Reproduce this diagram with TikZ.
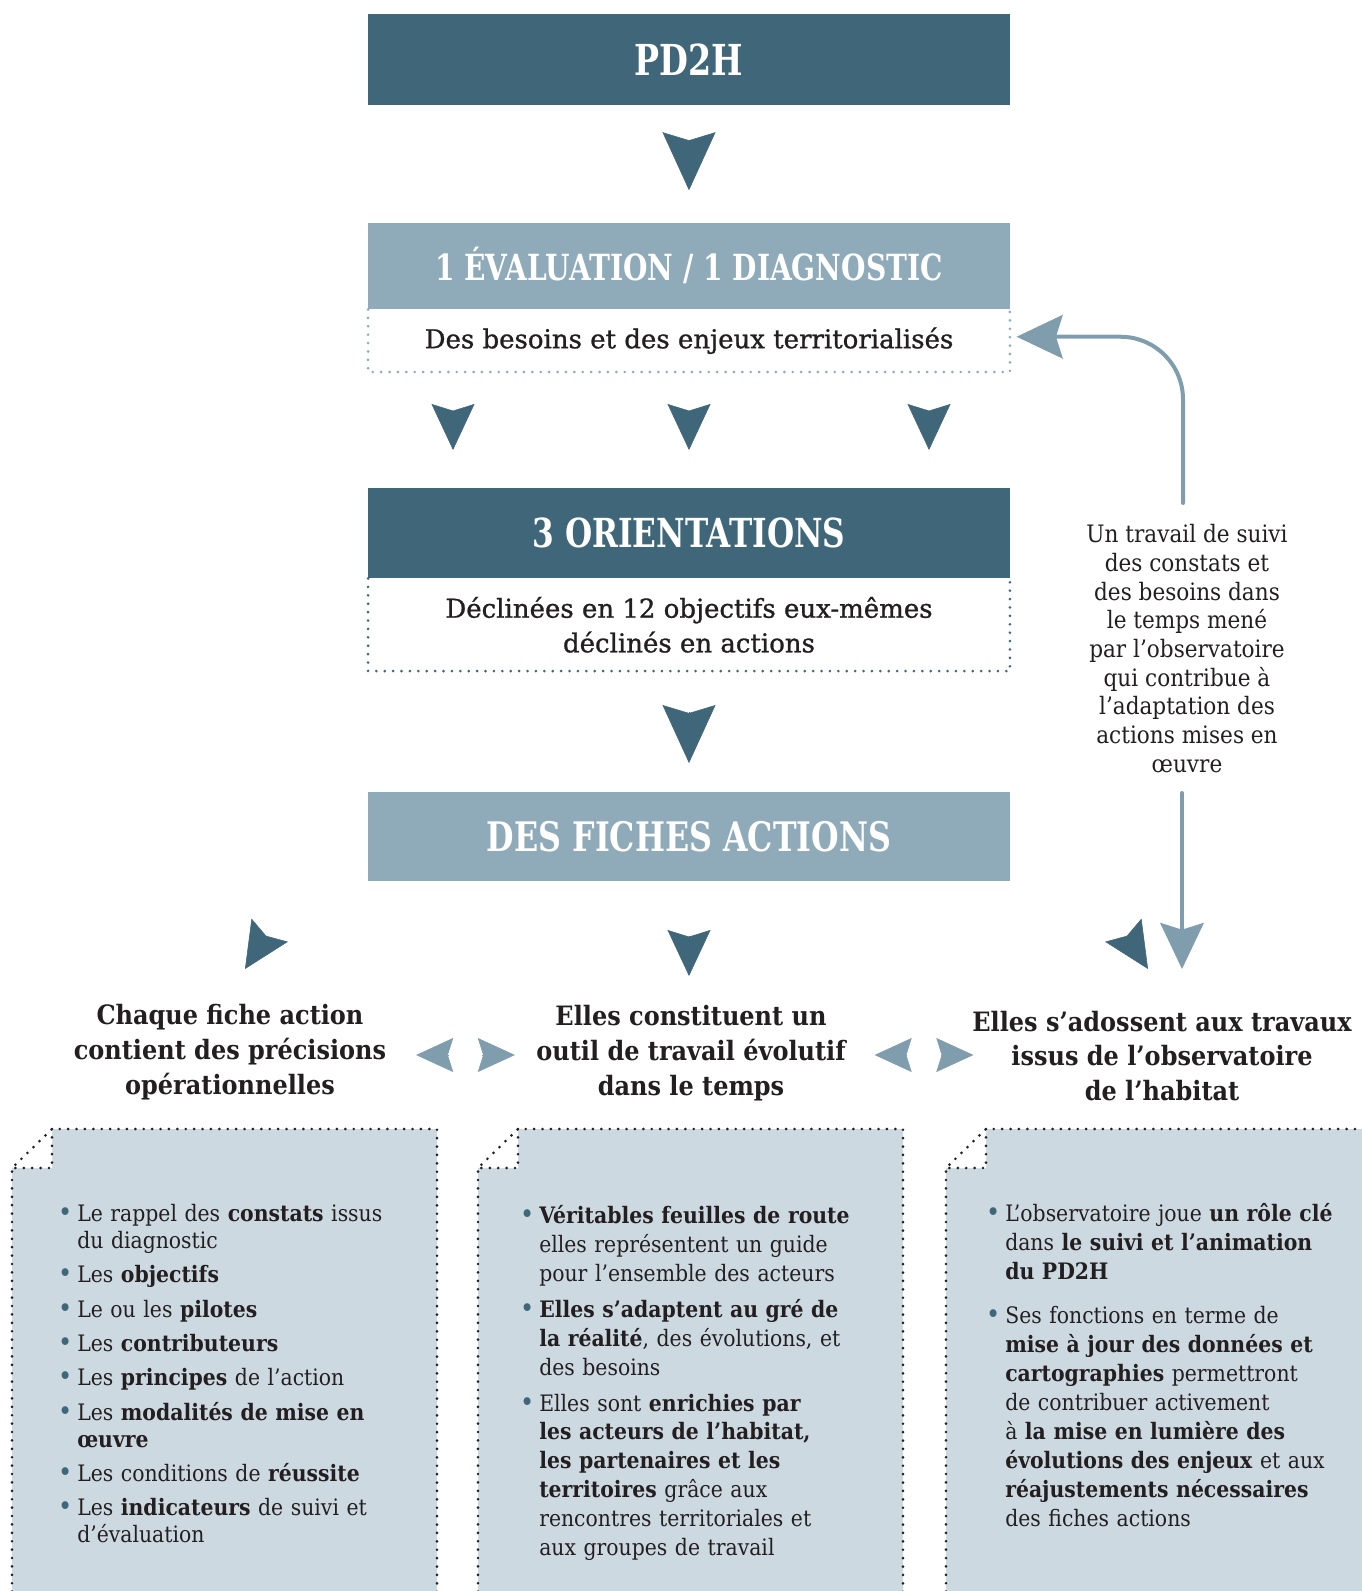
\documentclass[tikz,border=0pt]{standalone}
\usepackage{fontspec}
\setmainfont{DejaVu Serif}[FakeStretch=0.9]
\newfontfamily\etroit{DejaVu Serif}[FakeStretch=0.78]
\newfontfamily\moyen{DejaVu Serif}[FakeBold=1]
\usepackage{tikz}
\usetikzlibrary{positioning,arrows.meta}

\definecolor{petrole}{RGB}{64,103,121}
\definecolor{acier}{RGB}{143,170,185}
\definecolor{acierclair}{RGB}{128,157,174}
\definecolor{papier}{RGB}{205,217,225}
\definecolor{encre}{RGB}{35,31,32}

\newcommand\puce{\par\noindent\hangindent=18pt\hangafter=1%
  \makebox[18pt][c]{\textcolor{petrole}{\fontsize{20}{20}\selectfont•}}}

\begin{document}
\begin{tikzpicture}[
  x=0.75pt, y=-0.75pt,
  boite/.style={rectangle, minimum width=481pt, inner sep=0pt, text=white,
    font=\etroit\bfseries\fontsize{27}{30}\selectfont},
  cadre/.style={rectangle, minimum width=481pt, inner sep=0pt, align=center,
    text=encre, font=\moyen\fontsize{19.5}{26}\selectfont},
  titre/.style={align=center, text=encre, font=\bfseries\fontsize{20}{26}\selectfont},
  note/.style={align=center, text=encre, font=\fontsize{18}{21.5}\selectfont},
  liste/.style={anchor=north west, inner sep=0pt, text width=#1, align=left,
    text=encre},
  pointille/.style={line width=2.2pt, dash pattern=on 0pt off 6.3pt, line cap=round},
  grosse/.style={draw=petrole, line width=0.4pt,
    -{Stealth[length=43.5pt,width=39.75pt,inset=6pt]}},
  petite/.style={draw=petrole, line width=0.4pt,
    -{Stealth[length=34.5pt,width=32.25pt,inset=5pt]}},
  laterale/.style={draw=acierclair, line width=0.4pt,
    -{Stealth[length=27.75pt,width=25.5pt,inset=4pt]}},
  retour/.style={draw=acierclair, line width=3pt, line cap=round,
    -{Stealth[length=34.5pt,width=32.5pt,inset=5pt]}}
]
\path[use as bounding box, fill=white] (0,0) rectangle (1362,1591);
\clip (0,0) rectangle (1362,1591);

% colonne centrale
\node[boite, fill=petrole, minimum height=68.25pt, font=\etroit\bfseries\fontsize{32}{34}\selectfont] (pd2h) at (689,59.5) {PD2H};
\node[boite, fill=acier, minimum height=65pt, below=87.75pt of pd2h] (eval) {1 ÉVALUATION / 1 DIAGNOSTIC};
\node[cadre, minimum height=46.5pt, below=0pt of eval] (besoins) {Des besoins et des enjeux territorialisés};
\node[boite, fill=petrole, minimum height=67.5pt, below=87pt of besoins, font=\etroit\bfseries\fontsize{30}{32}\selectfont] (orient) {3 ORIENTATIONS};
\node[cadre, minimum height=69pt, below=0pt of orient] (declin) {Déclinées en 12 objectifs eux-mêmes\\déclinés en actions};
\node[boite, fill=acier, minimum height=66.75pt, below=90.75pt of declin, font=\etroit\bfseries\fontsize{30.5}{32}\selectfont] (fiches) {DES FICHES ACTIONS};

\draw[pointille, acier] (besoins.north west) |- (besoins.south east) -- (besoins.north east);
\draw[pointille, petrole] (declin.north west) |- (declin.south east) -- (declin.north east);

% fiches (coin plie)
\foreach \g/\d in {12/437, 478/903, 946/1380} {
  \fill[papier] (\g,1168) -- (\g+40,1129) -- (\d,1129) -- (\d,1600) -- (\g,1600) -- cycle;
  \fill[white] (\g,1168) -- (\g+40,1129) -- (\g+40,1168) -- cycle;
  \draw[pointille, encre] (\g,1600) -- (\g,1168) -- (\g+40,1129) -- (\d,1129) -- (\d,1600);
  \draw[pointille, encre] (\g+40,1129) |- (\g,1168);
}

% titres des trois colonnes
\node[titre] (chaque) at (230,1052) {Chaque fiche action\\contient des précisions\\opérationnelles};
\node[titre] (outil) at (691,1053) {Elles constituent un\\outil de travail évolutif\\dans le temps};
\node[titre] (adosse) at (1162,1056) {Elles s’adossent aux travaux\\issus de l’observatoire\\de l’habitat};

\node[note] (suivi) at (1187,648.5) {Un travail de suivi\\des constats et\\des besoins dans\\le temps mené\\par l’observatoire\\qui contribue à\\l’adaptation des\\actions mises en\\œuvre};

% listes
\node[liste=340pt, font=\fontsize{17}{20}\selectfont\setlength{\parskip}{5.8pt}] (lg) at (53,1187) {%
\puce Le rappel des \textbf{constats} issus\newline du diagnostic
\puce Les \textbf{objectifs}
\puce Le ou les \textbf{pilotes}
\puce Les \textbf{contributeurs}
\puce Les \textbf{principes} de l’action
\puce Les \textbf{modalités de mise en\newline œuvre}
\puce Les conditions de \textbf{réussite}
\puce Les \textbf{indicateurs} de suivi et\newline d’évaluation\par};
\node[liste=340pt, font=\fontsize{17}{21.7}\selectfont\setlength{\parskip}{5.3pt}] (lm) at (515,1187) {%
\puce \textbf{Véritables feuilles de route}\newline elles représentent un guide\newline pour l’ensemble des acteurs
\puce \textbf{Elles s’adaptent au gré de\newline la réalité}, des évolutions, et\newline des besoins
\puce Elles sont \textbf{enrichies par\newline les acteurs de l’habitat,\newline les partenaires et les\newline territoires} grâce aux\newline rencontres territoriales et\newline aux groupes de travail\par};
\node[liste=340pt, font=\fontsize{17}{21.75}\selectfont\setlength{\parskip}{11pt}] (ld) at (981,1178) {%
\puce L’observatoire joue \textbf{un rôle clé}\newline dans \textbf{le suivi et l’animation\newline du PD2H}
\puce Ses fonctions en terme de\newline \textbf{mise à jour des données et\newline cartographies} permettront\newline de contribuer activement\newline à \textbf{la mise en lumière des\newline évolutions des enjeux} et aux\newline \textbf{réajustements nécessaires}\newline des fiches actions\par};

% fleches
\path (pd2h) edge[grosse, shorten <=26pt, shorten >=24pt] (eval)
      (declin) edge[grosse, shorten <=30.75pt, shorten >=21.75pt] (fiches);
\foreach \dx in {-177,0,180}
  \path ([xshift=\dx pt]besoins.south) edge[petite, shorten <=29pt, shorten >=28.5pt] ([xshift=\dx pt]orient.north);

\coordinate (v1) at (266,936);  \coordinate (p1) at (245,969);
\coordinate (v2) at (689,936);  \coordinate (p2) at (689,976);
\coordinate (v3) at (1127,936); \coordinate (p3) at (1148,969);
\foreach \i in {1,2,3}
  \path (v\i) edge[petite] (p\i);

\coordinate (g1) at (465.5,1055);
\coordinate (g2) at (924,1055);
\foreach \g in {g1,g2}
  \path ([xshift=-12.4pt]\g) edge[laterale] ([xshift=-37pt]\g)
        ([xshift=12.4pt]\g) edge[laterale] ([xshift=37pt]\g);

\coordinate (r0) at (1183,503);
\coordinate (r1) at (1182,793);
\coordinate (r2) at (1182,969);
\draw[retour, rounded corners=47pt] (r0) |- ([xshift=5pt, yshift=3pt]besoins.east);
\path (r1) edge[retour] (r2);

\end{tikzpicture}
\end{document}
